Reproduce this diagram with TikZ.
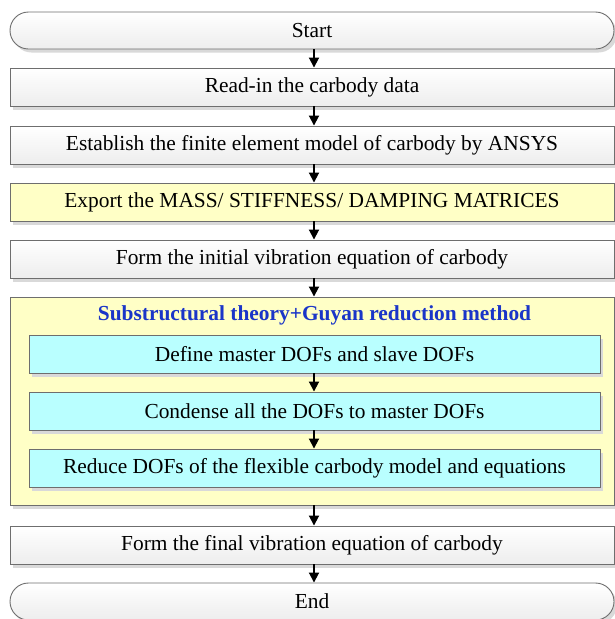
\documentclass[tikz,border=0pt]{standalone}
\usepackage{fontspec}
\setmainfont{Liberation Serif}
\usetikzlibrary{shadows,arrows.meta,shapes.misc}
\definecolor{bordc}{HTML}{6E6E6E}
\definecolor{shad}{HTML}{D9D9D9}
\definecolor{yel}{HTML}{FFFFC6}
\definecolor{cya}{HTML}{B9FFFF}
\definecolor{titleblue}{HTML}{1A35C8}
\tikzset{
  base/.style={draw=bordc, line width=0.9pt, minimum height=38pt, inner sep=0pt,
    font=\fontsize{21.4}{25}\selectfont,
    drop shadow={shadow xshift=3pt, shadow yshift=-3.5pt, fill=shad, opacity=1}},
  greybox/.style={base, rectangle, minimum width=604pt, top color=white, bottom color=black!7},
  termbox/.style={base, rounded rectangle, minimum width=604pt, minimum height=37pt, top color=white, bottom color=black!7},
  yelbox/.style={base, rectangle, minimum width=604pt, fill=yel},
  cyabox/.style={base, rectangle, minimum width=571pt, fill=cya},
  flow/.style={-{Triangle[length=10pt,width=10pt]}, line width=1.8pt, black},
}
\begin{document}
\begin{tikzpicture}[x=1pt,y=-1pt]
\useasboundingbox (0,0) rectangle (615,619);
\node[termbox] (start) at (312,30.5) {Start};
\node[greybox] (read) at (312,87) {Read-in the carbody data};
\node[greybox] (estab) at (312,145) {Establish the finite element model of carbody by ANSYS};
\node[yelbox] (export) at (312,202) {Export the MASS/ STIFFNESS/ DAMPING MATRICES};
\node[greybox] (init) at (312,259) {Form the initial vibration equation of carbody};
\node[yelbox, minimum height=208pt] (big) at (312,401) {};
\node[font=\fontsize{21.4}{25}\selectfont\bfseries, text=titleblue, inner sep=0pt] (title) at (314.5,315) {Substructural theory+Guyan reduction method};
\node[cyabox] (define) at (314.5,354) {Define master DOFs and slave DOFs};
\node[cyabox] (condense) at (314.5,411) {Condense all the DOFs to master DOFs};
\node[cyabox] (reduce) at (314.5,468) {Reduce DOFs of the flexible carbody model and equations};
\node[greybox] (final) at (312,545) {Form the final vibration equation of carbody};
\node[termbox] (end) at (312,601.5) {End};
\draw[flow] (start.south -| 314,0) -- (read.north -| 314,0);
\draw[flow] (read.south -| 314,0) -- (estab.north -| 314,0);
\draw[flow] (estab.south -| 314,0) -- (export.north -| 314,0);
\draw[flow] (export.south -| 314,0) -- (init.north -| 314,0);
\draw[flow] (init.south -| 314,0) -- (big.north -| 314,0);
\draw[flow] (define.south -| 314,0) -- (condense.north -| 314,0);
\draw[flow] (condense.south -| 314,0) -- (reduce.north -| 314,0);
\draw[flow] (big.south -| 314,0) -- (final.north -| 314,0);
\draw[flow] (final.south -| 314,0) -- (end.north -| 314,0);
\end{tikzpicture}
\end{document}
